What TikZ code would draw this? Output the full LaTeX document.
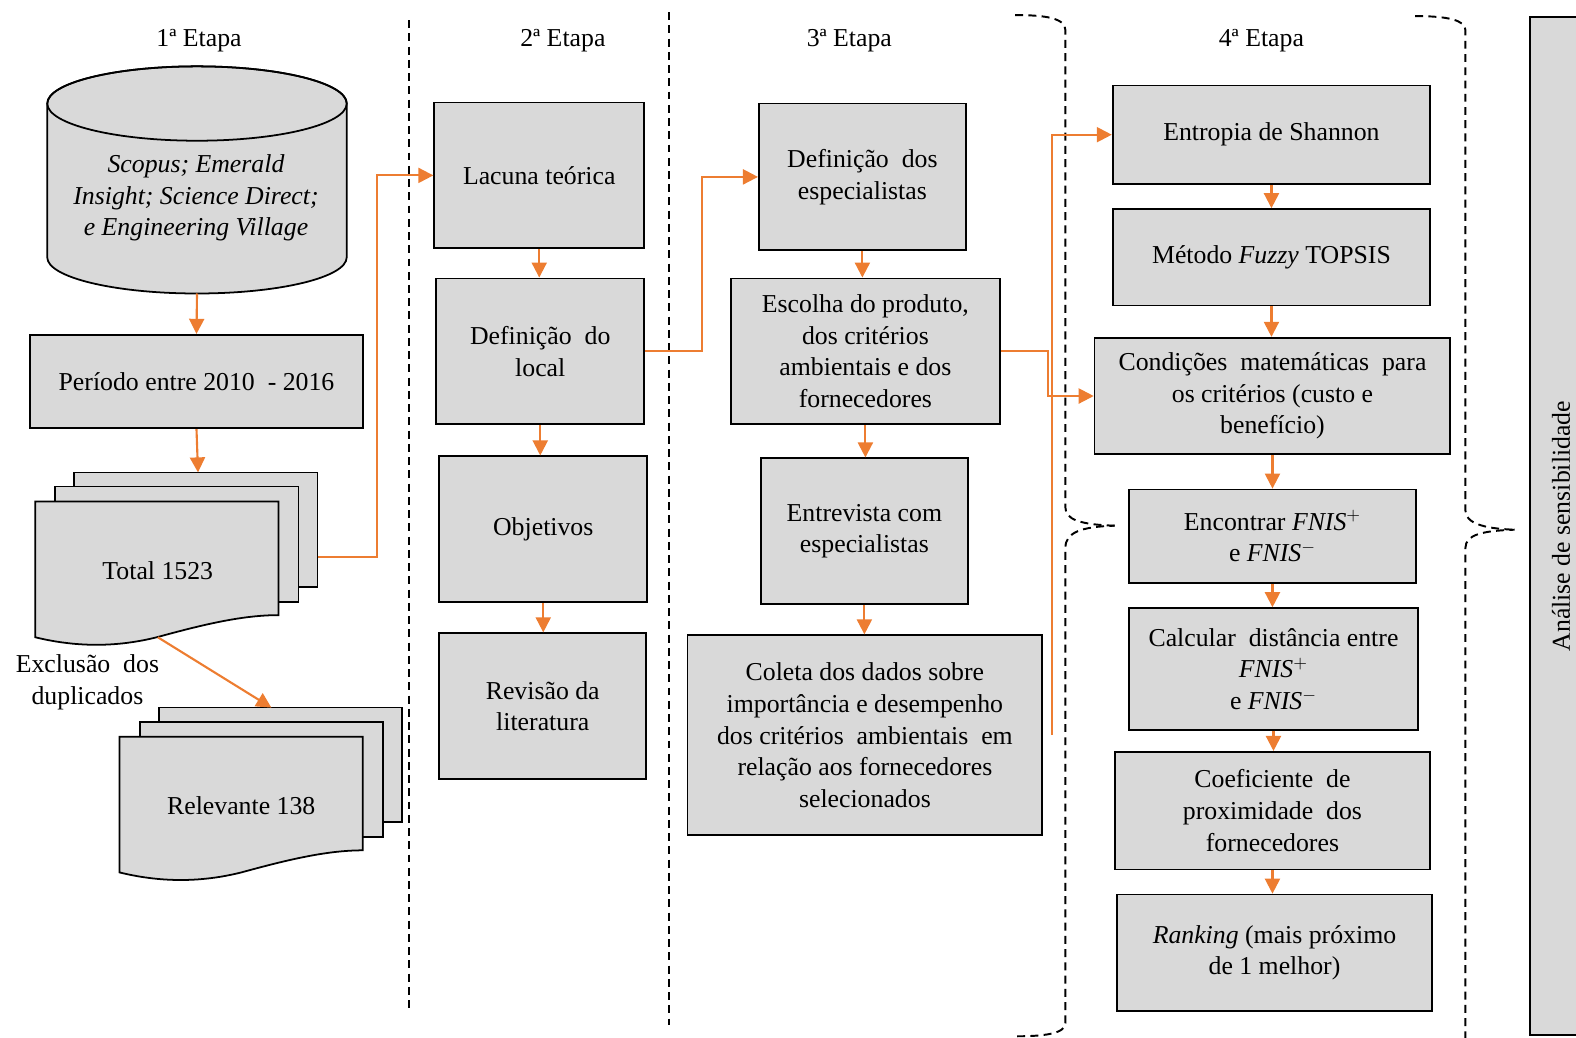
\documentclass[tikz,border=0pt]{standalone}
\usepackage{fontspec}
\setmainfont{Liberation Serif}
\usetikzlibrary{arrows.meta,calc}
\definecolor{laranja}{HTML}{ED7D31}
\definecolor{cinza}{HTML}{D9D9D9}
\tikzset{
  caixa/.style={draw,fill=cinza,line width=1pt,align=center,inner sep=2pt},
  seta/.style={draw=laranja,line width=1.2pt,-{Triangle[length=8.5pt,width=8.5pt]}},
  sep/.style={dash pattern=on 4.5pt off 3pt,line width=1.1pt},
  folha/.style={draw,fill=cinza,line width=1pt}
}
% pilha de documentos, (#1,#2) = canto superior esquerdo da folha da frente
\newcommand{\pilha}[2]{
  \begin{scope}[shift={(#1,#2)}]
    \path[folha] (39,-29) rectangle (281,85);
    \path[folha] (20,-15) rectangle (262,100);
    \path[folha] (0,0) -- (242,0) -- (242,113) .. controls (205,113) and (165,123) .. (121,135)
        .. controls (85,144) and (45,146) .. (0,135) -- cycle;
  \end{scope}
}
\newcommand{\fnis}[1]{\textit{FNIS}$^{#1}$}

\begin{document}
\begin{tikzpicture}[x=0.02cm,y=-0.02cm,font=\fontsize{14.6}{17.9}\selectfont]
        \useasboundingbox (0,0) rectangle (1568,1032);
        % etapas
        \node (e1) at (198,40) {1ª Etapa};
        \node (e2) at (560,40) {2ª Etapa};
        \node (e3) at (845,40) {3ª Etapa};
        \node (e4) at (1255,40) {4ª Etapa};
        \draw[sep] (407,20) -- (407,1005);
        \draw[sep] (666,12) -- (666,1020);
        \draw[sep] (1010,15) .. controls (1040,15) and (1060,18) .. (1060,30) -- (1060,505)
            .. controls (1060,517) and (1075,522) .. (1109,523);
        \draw[sep] (1012,1031) .. controls (1040,1031) and (1060,1028) .. (1060,1018) -- (1060,545)
            .. controls (1060,530) and (1075,524) .. (1109,523);
        \draw[sep] (1408,16) .. controls (1440,16) and (1458,20) .. (1458,30) -- (1458,508)
            .. controls (1458,520) and (1475,526) .. (1507,527);
        \draw[sep] (1458,1034) -- (1458,545) .. controls (1458,532) and (1475,528) .. (1507,527);
        % 1a etapa
        \filldraw[fill=cinza,line width=1pt] (47,103) -- (47,256)
            arc[start angle=180,end angle=360,x radius=2.98cm,y radius=0.72cm] -- (345,103)
            arc[start angle=0,end angle=180,x radius=2.98cm,y radius=0.74cm];
        \draw[line width=1pt] (196,103) ellipse [x radius=2.98cm,y radius=0.74cm];
        \node[align=center,font=\fontsize{14.6}{17.9}\selectfont\itshape] (bases) at (195,197) {Scopus; Emerald\\Insight; Science Direct;\\e Engineering Village};
        \coordinate (dbBot) at (196,292);
        \node[caixa,minimum width=6.62cm,minimum height=1.86cm] (periodo) at (195.5,379.5) {Período entre 2010 \ - 2016};
        \pilha{35}{499}
        \node (total) at (157,568) {Total 1523};
        \pilha{119}{733}
        \node (relevante) at (240,802) {Relevante 138};
        \coordinate (totTop) at (197,470);
        \coordinate (totDir) at (316,554);
        \coordinate (totBot) at (157,634);
        \coordinate (relTop) at (270,704);
        \node[align=center] (exclusao) at (87,679) {Exclusão \ dos\\duplicados};
        % 2a etapa
        \node[caixa,minimum width=4.18cm,minimum height=2.9cm] (lacuna) at (536.5,174.5) {Lacuna teórica};
        \node[caixa,minimum width=4.14cm,minimum height=2.9cm] (deflocal) at (537.5,349.5) {Definição \ do\\local};
        \node[caixa,minimum width=4.14cm,minimum height=2.9cm] (objetivos) at (540.5,526.5) {Objetivos};
        \node[caixa,minimum width=4.12cm,minimum height=2.9cm] (revisao) at (540,702.5) {Revisão da\\literatura};
        % 3a etapa
        \node[caixa,minimum width=4.12cm,minimum height=2.92cm] (defesp) at (858,176) {Definição \ dos\\especialistas};
        \node[caixa,minimum width=5.36cm,minimum height=2.9cm] (escolha) at (861,349.5) {Escolha do produto,\\dos critérios\\ambientais e dos\\fornecedores};
        \node[caixa,minimum width=4.12cm,minimum height=2.9cm] (entrevista) at (860,528.5) {Entrevista com\\especialistas};
        \node[caixa,minimum width=7.06cm,minimum height=3.98cm] (coleta) at (860.5,731.5) {Coleta dos dados sobre\\importância e desempenho\\dos critérios \ ambientais \ em\\relação aos fornecedores\\selecionados};
        \coordinate (colOut) at ($(coleta.east)+(9,0)$);
        % 4a etapa
        \node[caixa,minimum width=6.32cm,minimum height=1.96cm] (entropia) at (1265,134) {Entropia de Shannon};
        \node[caixa,minimum width=6.32cm,minimum height=1.92cm] (metodo) at (1265,256) {Método \textit{Fuzzy} TOPSIS};
        \node[caixa,minimum width=7.08cm,minimum height=2.32cm] (condicoes) at (1266,394) {Condições \ matemáticas \ para\\os critérios (custo e\\benefício)};
        \node[caixa,minimum width=5.72cm,minimum height=1.86cm] (encontrar) at (1266,533.5) {Encontrar \fnis{+}\\e \fnis{-}};
        \node[caixa,minimum width=5.76cm,minimum height=2.42cm] (calcular) at (1267,665.5) {Calcular \ distância entre\\\fnis{+}\\e \fnis{-}};
        \node[caixa,minimum width=6.28cm,minimum height=2.34cm] (coeficiente) at (1266,806.5) {Coeficiente \ de\\proximidade \ dos\\fornecedores};
        \node[caixa,minimum width=6.28cm,minimum height=2.32cm] (ranking) at (1268,948) {\textit{Ranking} (mais próximo\\de 1 melhor)};
        \node[caixa,rotate=90,minimum width=20.26cm,minimum height=1.24cm] (analise) at (1553,523.5) {Análise de sensibilidade};
        % setas
        \draw[seta] (dbBot) -- (periodo.north);
        \draw[seta] (periodo.south) -- (totTop);
        \draw[seta] (totBot) -- (relTop);
        \draw[seta] (totDir) -- ++(59,0) |- (lacuna.west);
        \draw[seta] (lacuna.south) -- (lacuna.south |- deflocal.north);
        \draw[seta] (deflocal.south) -- (deflocal.south |- objetivos.north);
        \draw[seta] (objetivos.south) -- (objetivos.south |- revisao.north);
        \draw[seta] (deflocal.east) -- ++(57,0) |- (defesp.west);
        \draw[seta] (defesp.south) -- (defesp.south |- escolha.north);
        \draw[seta] (escolha.south) -- (escolha.south |- entrevista.north);
        \draw[seta] (entrevista.south) -- (entrevista.south |- coleta.north);
        \draw[seta] (escolha.east) -- ++(47,0) |- (condicoes.west);
        \draw[seta] (colOut) |- (entropia.west);
        \draw[seta] (entropia.south) -- (entropia.south |- metodo.north);
        \draw[seta] (metodo.south) -- (metodo.south |- condicoes.north);
        \draw[seta] (condicoes.south) -- (condicoes.south |- encontrar.north);
        \draw[seta] (encontrar.south) -- (encontrar.south |- calcular.north);
        \draw[seta] (calcular.south) -- (calcular.south |- coeficiente.north);
        \draw[seta] (coeficiente.south) -- (coeficiente.south |- ranking.north);
\end{tikzpicture}
\end{document}
